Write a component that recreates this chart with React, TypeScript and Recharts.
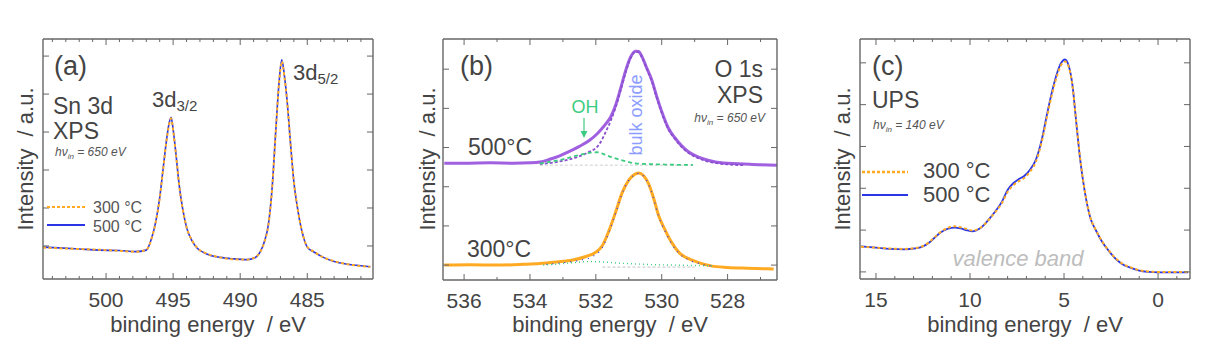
import React from "react";
import { LineChart, Line, XAxis, YAxis } from "recharts";

const FONT = "'Liberation Sans', Arial, Helvetica, sans-serif";
const INK = "#444";
const BOX = "#666";
const ORANGE = "#FFAA22";
const BLUE = "#2a36e6";
const PURPLE = "#a060e0";
const GREEN = "#3ccc80";

// (a) Sn 3d XPS
const snEnergy = [
  504.7, 503.5, 502, 500.5, 499, 497.8, 497.0, 496.6, 496.3, 496.0, 495.75, 495.5, 495.3,
  495.15, 495.0, 494.8, 494.55, 494.3, 494.0, 493.6, 493.2, 492.5, 491.5, 490.5, 489.5,
  488.9, 488.5, 488.2, 487.9, 487.6, 487.35, 487.1, 486.9, 486.7, 486.5, 486.25, 486.0,
  485.7, 485.4, 485.0, 484.5, 483.8, 483.0, 482.0, 481.0, 480.3,
];
const sn300 = [
  -0.04, -0.06, -0.08, -0.1, -0.13, -0.15, -0.1, 0.2, 0.62, 1.25, 2.0, 2.75, 3.2,
  3.36, 3.05, 2.45, 1.6, 1.0, 0.5, 0.15, -0.05, -0.2, -0.3, -0.35, -0.36,
  -0.3, -0.15, 0.1, 0.55, 1.6, 3.0, 4.3, 4.86, 4.45, 3.8, 2.7, 1.7,
  0.95, 0.4, -0.02, -0.15, -0.3, -0.4, -0.48, -0.53, -0.55,
];
const sn500 = [
  -0.03, -0.05, -0.08, -0.11, -0.12, -0.15, -0.11, 0.21, 0.63, 1.27, 2.02, 2.77, 3.23,
  3.39, 3.07, 2.46, 1.61, 1.0, 0.49, 0.14, -0.06, -0.21, -0.3, -0.34, -0.36,
  -0.31, -0.15, 0.11, 0.56, 1.62, 3.02, 4.32, 4.9, 4.47, 3.81, 2.7, 1.69,
  0.94, 0.39, -0.03, -0.16, -0.3, -0.41, -0.48, -0.52, -0.55,
];

// (b) O 1s XPS, 500 °C measured + fit components
const o500Energy = [
  536.6, 536, 535.2, 534.5, 534.0, 533.7, 533.4, 533.1, 532.8, 532.5, 532.2, 531.95, 531.75,
  531.55, 531.4, 531.25, 531.1, 530.95, 530.8, 530.7, 530.6, 530.45, 530.3, 530.15, 530.0,
  529.8, 529.6, 529.4, 529.2, 529.0, 528.7, 528.4, 528.0, 527.5, 527.0, 526.5,
];
const o500 = [
  2.6, 2.6, 2.61, 2.6, 2.61, 2.63, 2.7, 2.79, 2.9, 3.03, 3.18, 3.36, 3.55,
  3.78, 4.08, 4.5, 4.95, 5.3, 5.46, 5.45, 5.32, 5.02, 4.72, 4.3, 3.92,
  3.5, 3.25, 3.05, 2.9, 2.8, 2.7, 2.64, 2.6, 2.58, 2.56, 2.55,
];
const oBulkEnergy = [
  533.7, 533.2, 532.8, 532.3, 531.9, 531.7, 531.55, 531.45, 531.3, 531.1, 530.95, 530.8,
  530.7, 530.6, 530.45, 530.3, 530.15, 530.0, 529.8, 529.6, 529.4, 529.2, 529.0, 528.7,
  528.4, 528.0, 527.5,
];
const oBulk = [
  2.58, 2.63, 2.7, 2.85, 3.08, 3.4, 3.68, 3.9, 4.3, 4.9, 5.27, 5.44,
  5.43, 5.3, 5.0, 4.69, 4.27, 3.88, 3.47, 3.22, 3.02, 2.87, 2.77, 2.67,
  2.61, 2.57, 2.55,
];
const oOHEnergy = [533.7, 533.3, 533.0, 532.7, 532.4, 532.15, 531.95, 531.7, 531.5, 531.27, 531.05, 530.85, 530.5, 530.05, 529.5, 529.05];
const oOH = [2.59, 2.65, 2.7, 2.77, 2.83, 2.87, 2.88, 2.81, 2.75, 2.69, 2.64, 2.6, 2.58, 2.57, 2.56, 2.56];
const oBase500Energy = [533.7, 529.0];
const oBase500 = [2.55, 2.55];

// (b) O 1s XPS, 300 °C measured + fit
const o300Energy = [
  536.6, 535.8, 535.0, 534.2, 533.7, 533.2, 532.7, 532.3, 532.0, 531.8, 531.6, 531.4, 531.2,
  531.0, 530.85, 530.7, 530.55, 530.4, 530.25, 530.1, 529.9, 529.7, 529.45, 529.2, 528.9,
  528.5, 528.0, 527.4, 526.6,
];
const o300 = [
  0, 0.01, 0.0, 0.02, 0.04, 0.08, 0.13, 0.22, 0.33, 0.5, 0.88, 1.35, 1.85,
  2.17, 2.3, 2.35, 2.28, 2.08, 1.72, 1.28, 0.9, 0.58, 0.3, 0.17, 0.07,
  -0.02, -0.06, -0.08, -0.1,
];
const o300FitEnergy = [533.5, 533.0, 532.5, 532.1, 531.8, 531.6, 531.4, 531.2, 531.0, 530.85, 530.7, 530.55, 530.4, 530.25, 530.1, 529.9, 529.7, 529.45, 529.2, 528.9, 528.5];
const o300Fit = [0.02, 0.06, 0.12, 0.22, 0.45, 0.84, 1.32, 1.83, 2.16, 2.29, 2.34, 2.27, 2.06, 1.7, 1.26, 0.87, 0.55, 0.28, 0.14, 0.05, -0.02];
const o300OHEnergy = [533.6, 533.1, 532.6, 532.2, 531.8, 531.3, 530.8, 530.2, 529.6, 529.0, 528.4];
const o300OH = [0.0, 0.03, 0.07, 0.09, 0.08, 0.05, 0.03, 0.01, 0.0, -0.01, -0.02];
const oBase300Energy = [531.8, 529.0];
const oBase300 = [-0.05, -0.05];

// (c) UPS valence band
const upsEnergy = [
  15.8, 15.0, 14.3, 13.5, 12.9, 12.5, 12.2, 11.9, 11.6, 11.2, 10.8, 10.5, 10.2, 9.85, 9.5,
  9.2, 8.9, 8.6, 8.3, 8.0, 7.7, 7.4, 7.1, 6.8, 6.5, 6.2, 5.9, 5.6, 5.35, 5.15, 4.95, 4.75,
  4.55, 4.35, 4.15, 3.9, 3.6, 3.3, 3.0, 2.6, 2.2, 1.8, 1.4, 1.0, 0.5, 0, -0.8, -1.6,
];
const ups300 = [
  0.6, 0.58, 0.56, 0.55, 0.57, 0.62, 0.7, 0.82, 0.94, 1.05, 1.09, 1.07, 1.03, 0.99, 1.04,
  1.15, 1.3, 1.46, 1.65, 1.91, 2.07, 2.17, 2.25, 2.4, 2.63, 3.08, 3.72, 4.32, 4.72, 4.95, 5.03, 4.9,
  4.45, 3.6, 2.75, 1.95, 1.3, 1.0, 0.75, 0.5, 0.3, 0.17, 0.1, 0.04, 0.01, 0, 0, 0,
];
const ups500 = [
  0.61, 0.58, 0.55, 0.54, 0.56, 0.61, 0.69, 0.81, 0.93, 1.03, 1.06, 1.04, 1.0, 0.97, 1.03,
  1.15, 1.31, 1.48, 1.68, 1.96, 2.12, 2.22, 2.3, 2.45, 2.68, 3.13, 3.78, 4.38, 4.78, 5.0, 5.08, 4.93,
  4.46, 3.58, 2.72, 1.93, 1.29, 0.99, 0.74, 0.49, 0.29, 0.16, 0.09, 0.03, 0.0, -0.01, -0.01, -0.01,
];

const pairs = (xs: number[], ys: number[]) => xs.map((x, i) => ({ x, y: ys[i] }));
const range = (a: number, b: number) => {
  const out: number[] = [];
  for (let v = a; v <= b; v++) out.push(v);
  return out;
};

const makeXTick = (major: number, bottom: boolean) => (p: any) => {
  const v = p.payload.value;
  const isMajor = Math.abs(v / major - Math.round(v / major)) < 1e-6;
  const len = isMajor ? 6 : 3;
  return (
    <g>
      <line x1={p.x} x2={p.x} y1={p.y} y2={bottom ? p.y - len : p.y + len} stroke={BOX} strokeWidth={1} />
      {bottom && isMajor && (
        <text x={p.x} y={p.y + 28} textAnchor="middle" fontSize={21} fontFamily={FONT} fill={INK}>
          {v}
        </text>
      )}
    </g>
  );
};

const makeYTick = (left: boolean) => (p: any) => (
  <line x1={p.x} x2={left ? p.x + 6 : p.x - 6} y1={p.y} y2={p.y} stroke={BOX} strokeWidth={1} />
);

type PanelProps = {
  left: number;
  width: number;
  margin: { top: number; left: number; right: number; bottom: number };
  xDomain: [number, number];
  yDomain: [number, number];
  xTicks: number[];
  yTicks: number[];
  major: number;
  children: React.ReactNode;
};

// axes are 1px thick (recharts skips axes of zero size), margins are 1px smaller to compensate
function Panel({ left, width, margin, xDomain, yDomain, xTicks, yTicks, major, children }: PanelProps) {
  const axisLine = { stroke: BOX, strokeWidth: 1.4 };
  const m = { top: margin.top - 1, left: margin.left - 1, right: margin.right - 1, bottom: margin.bottom - 1 };
  return (
    <div style={{ position: "absolute", left, top: 0 }}>
      <LineChart width={width} height={344} margin={m}>
        <XAxis xAxisId="b" type="number" dataKey="x" domain={xDomain} reversed allowDataOverflow
          ticks={xTicks} interval={0} height={1} tickSize={0} tickMargin={0} axisLine={axisLine}
          tickLine={false} tick={makeXTick(major, true)} />
        <XAxis xAxisId="t" orientation="top" type="number" dataKey="x" domain={xDomain} reversed allowDataOverflow
          ticks={xTicks} interval={0} height={1} tickSize={0} tickMargin={0} axisLine={axisLine}
          tickLine={false} tick={makeXTick(major, false)} />
        <YAxis yAxisId="l" type="number" domain={yDomain} allowDataOverflow ticks={yTicks} interval={0}
          width={1} tickSize={0} tickMargin={0} axisLine={axisLine} tickLine={false} tick={makeYTick(true)} />
        <YAxis yAxisId="r" orientation="right" type="number" domain={yDomain} allowDataOverflow ticks={yTicks}
          interval={0} width={1} tickSize={0} tickMargin={0} axisLine={axisLine} tickLine={false}
          tick={makeYTick(false)} />
        {children}
      </LineChart>
    </div>
  );
}

const series = (key: string, data: { x: number; y: number }[], stroke: string, width: number, dash?: string) => (
  <Line key={key} xAxisId="b" yAxisId="l" data={data} dataKey="y" type="monotone" dot={false}
    stroke={stroke} strokeWidth={width} strokeDasharray={dash} isAnimationActive={false} />
);

const HV = ({ x, y, e, anchor = "start" }: { x: number; y: number; e: string; anchor?: string }) => (
  <text x={x} y={y} fontSize={12} fontStyle="italic" fill="#555" fontFamily={FONT} textAnchor={anchor as any}>
    hν<tspan fontSize={8} dy={3}>in</tspan><tspan dy={-3}>{` = ${e} eV`}</tspan>
  </text>
);

export default function App() {
  const text = { fontFamily: FONT, fill: INK };
  return (
    <div style={{ position: "absolute", left: 0, top: 0, width: 1218, height: 344, background: "#fff" }}>
      <Panel left={0} width={400} margin={{ top: 39, left: 43, right: 27, bottom: 65 }}
        xDomain={[480.1, 504.7]} yDomain={[-0.87, 5.45]} xTicks={range(481, 504)} yTicks={[0, 1, 2, 3, 4, 5]} major={5}>
        {series("a500", pairs(snEnergy, sn500), BLUE, 1.6)}
        {series("a300", pairs(snEnergy, sn300), ORANGE, 2, "3 2.5")}
      </Panel>
      <Panel left={400} width={410} margin={{ top: 39, left: 43, right: 33, bottom: 64 }}
        xDomain={[526.5, 536.64]} yDomain={[-0.38, 5.77]} xTicks={range(527, 536)} yTicks={[0, 1, 2, 3, 4, 5]} major={2}>
        {series("bBase500", pairs(oBase500Energy, oBase500), "#cfcfcf", 1, "3 2")}
        {series("bBase300", pairs(oBase300Energy, oBase300), "#cfcfcf", 1.2, "3 2")}
        {series("b500", pairs(o500Energy, o500), PURPLE, 3)}
        {series("bBulk", pairs(oBulkEnergy, oBulk), "#8a4fd0", 1.8, "3 2")}
        {series("bOH", pairs(oOHEnergy, oOH), GREEN, 1.8, "4 3")}
        {series("b300", pairs(o300Energy, o300), ORANGE, 3)}
        {series("b300fit", pairs(o300FitEnergy, o300Fit), BLUE, 1.2, "1 5")}
        {series("b300OH", pairs(o300OHEnergy, o300OH), GREEN, 1.4, "1 3")}
      </Panel>
      <Panel left={810} width={408} margin={{ top: 39, left: 50, right: 28, bottom: 65 }}
        xDomain={[-1.7, 15.85]} yDomain={[-0.17, 5.57]} xTicks={range(-1, 15)} yTicks={[0, 1, 2, 3, 4, 5]} major={5}>
        {series("c500", pairs(upsEnergy, ups500), BLUE, 1.8)}
        {series("c300", pairs(upsEnergy, ups300), ORANGE, 2, "3 2.5")}
      </Panel>

      <svg width={1218} height={344} style={{ position: "absolute", left: 0, top: 0, pointerEvents: "none" }}>
        {/* axis titles */}
        {[
          [25, 208],
          [427, 610],
          [842, 1025],
        ].map(([yx, xx]) => (
          <g key={yx}>
            <text x={yx} y={159} transform={`rotate(-90 ${yx} 159)`} textAnchor="middle" dominantBaseline="central"
              fontSize={22} style={{ whiteSpace: "pre" }} {...text}>
              {"Intensity  / a.u."}
            </text>
            <text x={xx} y={332} textAnchor="middle" fontSize={22} style={{ whiteSpace: "pre" }} {...text}>
              {"binding energy  / eV"}
            </text>
          </g>
        ))}

        {/* (a) */}
        <text x={54} y={75} fontSize={27} {...text}>(a)</text>
        <text x={53} y={114} fontSize={23} {...text}>Sn 3d</text>
        <text x={53} y={139} fontSize={23} {...text}>XPS</text>
        <HV x={55} y={156} e="650" />
        <text x={152} y={107} fontSize={22} {...text}>3d<tspan fontSize={15} dy={4}>3/2</tspan></text>
        <text x={293} y={80} fontSize={22} {...text}>3d<tspan fontSize={15} dy={4}>5/2</tspan></text>
        <line x1={47} x2={85} y1={207} y2={207} stroke={ORANGE} strokeWidth={2.2} strokeDasharray="3 2" />
        <line x1={47} x2={85} y1={225} y2={225} stroke={BLUE} strokeWidth={1.8} />
        <text x={93} y={213} fontSize={16} fill="#555" fontFamily={FONT}>300 °C</text>
        <text x={93} y={232} fontSize={16} fill="#555" fontFamily={FONT}>500 °C</text>

        {/* (b) */}
        <text x={460} y={75} fontSize={27} {...text}>(b)</text>
        <text x={763} y={77} fontSize={23} textAnchor="end" {...text}>O 1s</text>
        <text x={763} y={103} fontSize={23} textAnchor="end" {...text}>XPS</text>
        <HV x={765} y={122} e="650" anchor="end" />
        <text x={468} y={155} fontSize={23} {...text}>500°C</text>
        <text x={467} y={257} fontSize={23} {...text}>300°C</text>
        <text x={585} y={113} fontSize={18} textAnchor="middle" fill={GREEN} fontFamily={FONT}>OH</text>
        <line x1={584} x2={584} y1={118} y2={134} stroke={GREEN} strokeWidth={1.2} />
        <path d="M580.5 131 L584 138 L587.5 131 Z" fill={GREEN} />
        <text x={636} y={115} transform="rotate(-90 636 115)" textAnchor="middle" dominantBaseline="central"
          fontSize={18} fill="#8c9cff" fontFamily={FONT}>bulk oxide</text>

        {/* (c) */}
        <text x={872} y={75} fontSize={27} {...text}>(c)</text>
        <text x={872} y={108} fontSize={23} {...text}>UPS</text>
        <HV x={873} y={129} e="140" />
        <line x1={862} x2={908} y1={172} y2={172} stroke={ORANGE} strokeWidth={2.4} strokeDasharray="3 2" />
        <line x1={862} x2={908} y1={195} y2={195} stroke={BLUE} strokeWidth={2} />
        <text x={923} y={178} fontSize={22} {...text}>300 °C</text>
        <text x={923} y={202} fontSize={22} {...text}>500 °C</text>
        <text x={1018} y={266} fontSize={22} fontStyle="italic" textAnchor="middle" fill="#bdbdbd" fontFamily={FONT}>
          valence band
        </text>
      </svg>
    </div>
  );
}
